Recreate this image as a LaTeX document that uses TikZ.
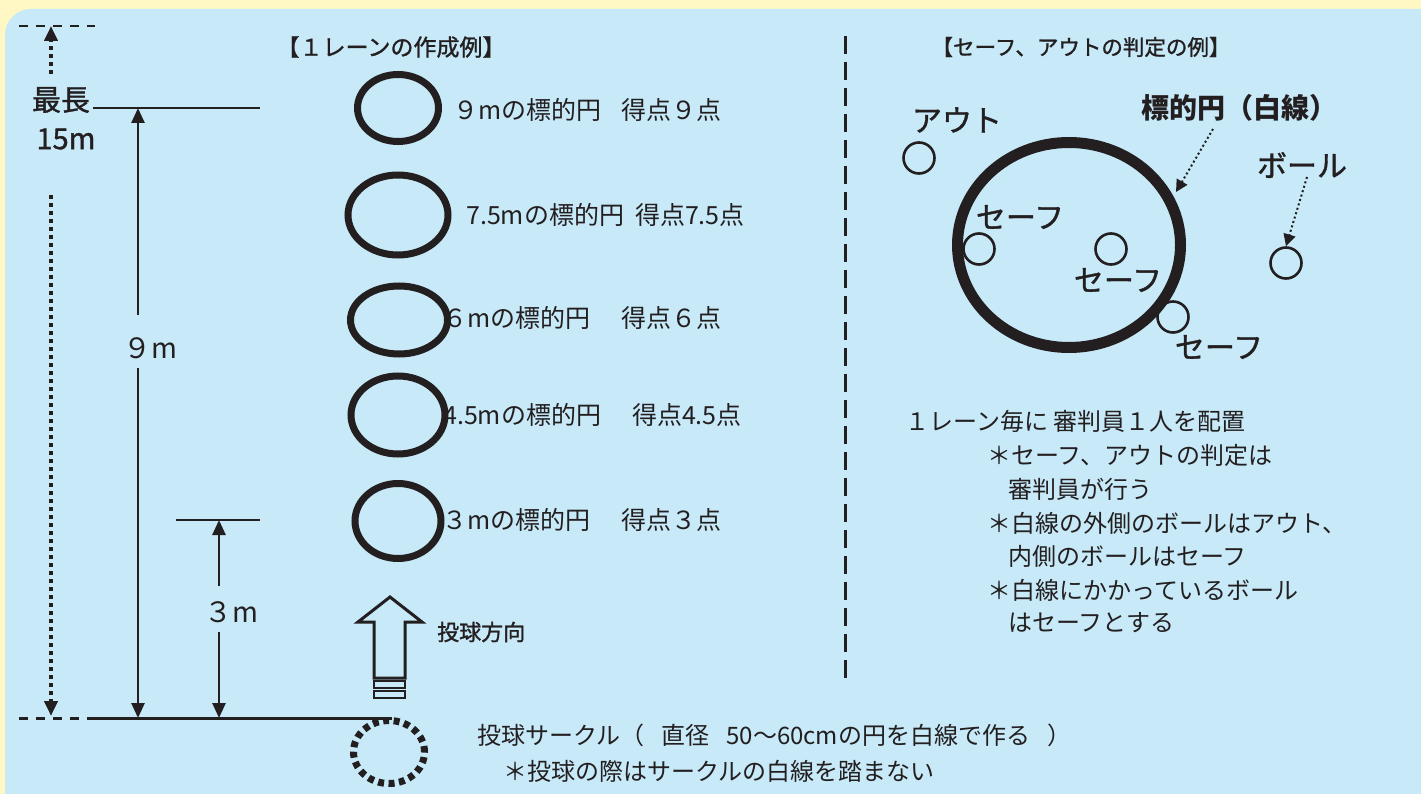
\documentclass[tikz,border=0pt]{standalone}
\usepackage{fontspec}
\setmainfont{Noto Sans CJK JP}
\newfontfamily\jpmed[FakeBold=1.2]{Noto Sans CJK JP}
\usetikzlibrary{arrows.meta,shapes.geometric}
\definecolor{ink}{HTML}{231F20}
\definecolor{bgblue}{HTML}{C7E9F8}
\definecolor{bgyellow}{HTML}{FFF7C4}
\newcommand{\fs}[1]{\fontsize{#1}{#1}\selectfont}
\newcommand{\gap}{\hspace{17pt}}
\tikzset{
  txt/.style={text=ink, inner sep=0pt, font=\fs{24}},
  big/.style={text=ink, inner sep=0pt, font=\jpmed\fs{30}},
  hdr/.style={text=ink, inner sep=0pt, font=\jpmed\fs{21.5}},
  lane/.style={text=ink, inner sep=0pt, font=\fs{25}, anchor=west},
  lanept/.style={text=ink, inner sep=0pt, font=\fs{25}, anchor=east},
  dimline/.style={draw=ink, line width=2.6pt},
  arr/.style={-{Triangle[length=15pt,width=13pt]}},
  arrs/.style={-{Triangle[length=12pt,width=12pt]}},
  dotline/.style={draw=ink, line width=4pt, dash pattern=on 4pt off 4pt},
  finedot/.style={draw=ink, line width=2pt, dash pattern=on 2pt off 2.6pt},
  target/.style={ellipse, draw=ink, line width=7pt, inner sep=0pt},
  ball/.style={circle, draw=ink, line width=2.6pt, minimum size=31pt, inner sep=0pt},
}
\begin{document}
\begin{tikzpicture}[x=1pt,y=-1pt]
\useasboundingbox (0,0) rectangle (1421,794);
\fill[bgyellow] (0,0) rectangle (1421,794);
\fill[bgblue, rounded corners=26pt] (5,9) rectangle (1460,840);

% ---------- left dimension lines ----------
\coordinate (top1) at (19,26);
\coordinate (top2) at (95,26);
\draw[draw=ink, line width=2.6pt, dash pattern=on 9pt off 8pt] (top1) -- (top2);
\coordinate (topA) at (51,26);
\coordinate (topB) at (51,74);
\draw[dotline, arr] (topB) -- (topA);

\node[big, font=\jpmed\fs{29}] (saicho) at (61,100) {最長};
\node[big, font=\jpmed\fs{29}] (m15) at (66,139) {15m};

\coordinate (h9a) at (93,108);
\coordinate (h9b) at (260,108);
\draw[dimline] (h9a) -- (h9b);

\coordinate (dotS) at (51,195);
\coordinate (dotE) at (51,716);
\draw[dotline, arr] (dotS) -- (dotE);

\coordinate (base0) at (19,718);
\coordinate (base1) at (92,718);
\coordinate (base2) at (392,718);
\draw[draw=ink, line width=3pt, dash pattern=on 9pt off 8pt] (base0) -- (base1);
\draw[draw=ink, line width=3pt] (base1) -- (base2);

% 9m
\node[big, font=\fs{28}] (l9) at (150,348) {９m};
\coordinate (a9t) at (138,108);
\coordinate (a9u) at (138,315);
\coordinate (a9l) at (138,368);
\coordinate (a9b) at (138,718);
\draw[dimline, arr] (a9u) -- (a9t);
\draw[dimline, arr] (a9l) -- (a9b);

% 3m
\coordinate (h3a) at (176,520);
\coordinate (h3b) at (260,520);
\draw[dimline] (h3a) -- (h3b);
\node[big, font=\fs{28}] (l3) at (231,612) {３m};
\coordinate (a3t) at (219,520);
\coordinate (a3u) at (219,586);
\coordinate (a3l) at (219,632);
\coordinate (a3b) at (219,718);
\draw[dimline, arr] (a3u) -- (a3t);
\draw[dimline, arr] (a3l) -- (a3b);

% ---------- lane ----------
\node[hdr, font=\jpmed\fs{23}] (hdrL) at (391,47) {【１レーンの作成例】};

\node[target, minimum width=81pt, minimum height=67pt] (c9) at (398,108) {};
\node[target, minimum width=100pt, minimum height=80pt] (c75) at (398,215) {};
\node[target, minimum width=97pt, minimum height=68pt] (c6) at (399,320) {};
\node[target, minimum width=94pt, minimum height=78pt] (c45) at (398,415) {};
\node[target, minimum width=86pt, minimum height=75pt] (c3) at (398,521) {};

\node[lane] (t9) at (453,110) {９mの標的円};
\node[lanept] (p9) at (722,110) {得点９点};
\node[lane] (t75) at (466,215) {7.5mの標的円};
\node[lanept] (p75) at (745,215) {得点7.5点};
\node[lane] (t6) at (442,318) {６mの標的円};
\node[lanept] (p6) at (722,318) {得点６点};
\node[lane] (t45) at (443,415) {4.5mの標的円};
\node[lanept] (p45) at (742,415) {得点4.5点};
\node[lane] (t3) at (442,520) {３mの標的円};
\node[lanept] (p3) at (722,520) {得点３点};

% throw direction arrow
\draw[draw=ink, line width=3pt, line join=miter, fill=bgblue]
  (374,678) -- (374,622) -- (358,622) -- (390,597) -- (422,622) -- (405,622) -- (405,678) -- cycle;
\draw[draw=ink, line width=2.4pt] (374,681) rectangle (405,688);
\draw[draw=ink, line width=2.4pt] (374,691) rectangle (405,698);
\node[text=ink, inner sep=0pt, font=\jpmed\fs{22}, anchor=west] (dir) at (437,632) {投球方向};

% throwing circle
\node[ellipse, draw=ink, line width=7pt, dash pattern=on 6pt off 4.5pt, minimum width=71pt, minimum height=63pt, inner sep=0pt] (tc) at (389,752) {};
\node[txt, anchor=west] (tc1) at (477,735) {投球サークル（\gap 直径\gap 50〜60cmの円を白線で作る\gap ）};
\node[txt, anchor=west] (tc2) at (503,771) {＊投球の際はサークルの白線を踏まない};

% divider
\coordinate (dv1) at (845,36);
\coordinate (dv2) at (845,680);
\draw[draw=ink, line width=3pt, dash pattern=on 18pt off 8pt] (dv1) -- (dv2);

% ---------- right ----------
\node[hdr] (hdrR) at (1081,47) {【セーフ、アウトの判定の例】};

\node[target, line width=11pt, minimum width=223pt, minimum height=205pt] (bigc) at (1069,245) {};

\node[big, font=\bfseries\fs{28}] (lblT) at (1239,108) {標的円（白線）};
\node[big] (lblOut) at (957,120) {アウト};
\node[big] (lblBall) at (1302,165) {ボール};
\node[big] (s1) at (1020,217) {セーフ};
\node[big] (s2) at (1118,280) {セーフ};
\node[big] (s3) at (1219,347) {セーフ};

\node[ball] (bOut) at (919,158) {};
\node[ball] (bS1) at (979,249) {};
\node[ball] (bS2) at (1111,249) {};
\node[ball] (bS3) at (1173,317) {};
\node[ball] (bB) at (1286,263) {};

\coordinate (tS) at (1213,129);
\coordinate (tE) at (1176,192);
\draw[finedot, arrs] (tS) -- (tE);
\coordinate (bS) at (1307,177);
\draw[finedot, arrs] (bS) -- (bB.north);

\node[txt, anchor=west] (r1) at (905,421) {１レーン毎に 審判員１人を配置};
\node[txt, anchor=west] (r2) at (987,455) {＊セーフ、アウトの判定は};
\node[txt, anchor=west] (r3) at (1008,489) {審判員が行う};
\node[txt, anchor=west] (r4) at (987,523) {＊白線の外側のボールはアウト、};
\node[txt, anchor=west] (r5) at (1008,556) {内側のボールはセーフ};
\node[txt, anchor=west] (r6) at (987,590) {＊白線にかかっているボール};
\node[txt, anchor=west] (r7) at (1008,623) {はセーフとする};
\end{tikzpicture}
\end{document}
